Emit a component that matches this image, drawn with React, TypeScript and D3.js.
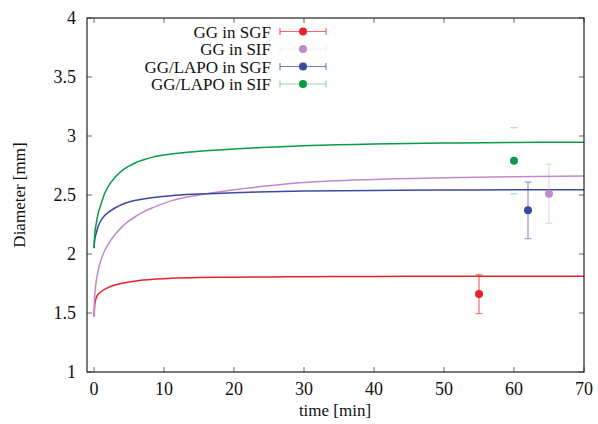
import React from "react";
import * as d3 from "d3";

// Fitted swelling curves, sampled in time (min)
const fitTimes = [0, 0.1, 0.3, 0.6, 1, 1.5, 2, 3, 4, 5, 6, 7, 8.5, 11, 15, 20, 25, 30, 40, 50, 60, 70];
const ggSgfFit = [1.47, 1.565, 1.625, 1.66, 1.68, 1.7, 1.715, 1.737, 1.752, 1.763, 1.772, 1.779, 1.787, 1.794, 1.8, 1.803, 1.806, 1.808, 1.81, 1.811, 1.812, 1.812];
const ggSifFit = [1.47, 1.65, 1.76, 1.86, 1.95, 2.025, 2.08, 2.165, 2.23, 2.28, 2.32, 2.355, 2.395, 2.45, 2.5, 2.545, 2.578, 2.605, 2.632, 2.647, 2.655, 2.66];
const lapoSgfFit = [2.05, 2.12, 2.17, 2.235, 2.285, 2.325, 2.35, 2.39, 2.42, 2.44, 2.455, 2.466, 2.478, 2.494, 2.508, 2.52, 2.527, 2.533, 2.539, 2.542, 2.544, 2.545];
const lapoSifFit = [2.05, 2.16, 2.25, 2.345, 2.42, 2.51, 2.57, 2.65, 2.707, 2.745, 2.775, 2.797, 2.823, 2.847, 2.87, 2.89, 2.905, 2.918, 2.932, 2.94, 2.945, 2.947];

// Measured diameters: time, mean, standard deviation
const seriesNames = ["GG in SGF", "GG in SIF", "GG/LAPO in SGF", "GG/LAPO in SIF"];
const measTimes = [55, 65, 62, 60];
const measMeans = [1.66, 2.51, 2.37, 2.79];
const measErrors = [0.165, 0.25, 0.24, 0.28];

const xTicks = [0, 10, 20, 30, 40, 50, 60, 70];
const yTicks = [1, 1.5, 2, 2.5, 3, 3.5, 4];

const colors = ["#e8222a", "#c089c9", "#3a4aa0", "#0a9a48"];
const barOpacity = [0.55, 0.35, 0.45, 0.35];
const barLineOpacity = [0.55, 0.3, 0.45, 0.0];
const legendBarOpacity = [0.7, 0.15, 0.7, 0.4];

const W = 598;
const H = 424;
const left = 87;
const right = 584;
const top = 18;
const bottom = 372;
const serif = "'Liberation Serif', 'Times New Roman', serif";

export default function App() {
  const x = d3.scaleLinear().domain([-1, 70]).range([left, right]);
  const y = d3.scaleLinear().domain([1, 4]).range([bottom, top]);
  const fits = [ggSgfFit, ggSifFit, lapoSgfFit, lapoSifFit];
  const line = d3
    .line<number>()
    .x((_, i) => x(fitTimes[i]))
    .y((v) => y(v))
    .curve(d3.curveMonotoneX);

  const tickLen = 5;
  const cap = 3.5;

  return (
    <svg
      width={W}
      height={H}
      style={{ position: "absolute", left: 0, top: 0, background: "#fff", fontFamily: serif }}
    >
      {/* ticks on all four sides, pointing inward */}
      {xTicks.map((t) => (
        <g key={"xt" + t} stroke="#666" strokeWidth={1}>
          <line x1={x(t)} x2={x(t)} y1={bottom} y2={bottom - tickLen} />
          <line x1={x(t)} x2={x(t)} y1={top} y2={top + tickLen} />
        </g>
      ))}
      {yTicks.map((t) => (
        <g key={"yt" + t} stroke="#666" strokeWidth={1}>
          <line x1={left} x2={left + tickLen} y1={y(t)} y2={y(t)} />
          <line x1={right} x2={right - tickLen} y1={y(t)} y2={y(t)} />
        </g>
      ))}

      {/* fitted curves */}
      {fits.map((f, i) => (
        <path key={"fit" + i} d={line(f) ?? ""} fill="none" stroke={colors[i]} strokeWidth={1.5} />
      ))}

      {/* measured points with error bars */}
      {measTimes.map((t, i) => {
        const cx = x(t);
        const y0 = y(measMeans[i] - measErrors[i]);
        const y1 = y(measMeans[i] + measErrors[i]);
        return (
          <g key={"pt" + i}>
            <line x1={cx} x2={cx} y1={y0} y2={y1} stroke={colors[i]} strokeOpacity={barLineOpacity[i]} strokeWidth={1.5} />
            <line x1={cx - cap} x2={cx + cap} y1={y0} y2={y0} stroke={colors[i]} strokeOpacity={barOpacity[i]} strokeWidth={1.3} />
            <line x1={cx - cap} x2={cx + cap} y1={y1} y2={y1} stroke={colors[i]} strokeOpacity={barOpacity[i]} strokeWidth={1.3} />
            <circle cx={cx} cy={y(measMeans[i])} r={4} fill={colors[i]} />
          </g>
        );
      })}

      {/* frame */}
      <rect x={left} y={top} width={right - left} height={bottom - top} fill="none" stroke="#222" strokeWidth={1.2} />

      {/* tick labels */}
      {xTicks.map((t) => (
        <text key={"xl" + t} x={x(t)} y={bottom + 23} textAnchor="middle" fontSize={18} fill="#111">
          {t}
        </text>
      ))}
      {yTicks.map((t) => (
        <text key={"yl" + t} x={left - 11} y={y(t) + 6} textAnchor="end" fontSize={18} fill="#111">
          {t}
        </text>
      ))}

      {/* axis titles */}
      <text x={335} y={416} textAnchor="middle" fontSize={17} fill="#111">
        time [min]
      </text>
      <text transform="translate(25,195) rotate(-90)" textAnchor="middle" fontSize={17} fill="#111">
        Diameter [mm]
      </text>

      {/* legend */}
      {seriesNames.map((name, i) => {
        const ly = 31.5 + i * 17.5;
        const lx0 = 280;
        const lx1 = 326;
        return (
          <g key={"lg" + i}>
            <text x={271} y={ly + 6} textAnchor="end" fontSize={17} fill="#111">
              {name}
            </text>
            <g stroke={colors[i]} strokeOpacity={legendBarOpacity[i]} strokeWidth={1.2}>
              <line x1={lx0} x2={lx1} y1={ly} y2={ly} />
              <line x1={lx0} x2={lx0} y1={ly - cap} y2={ly + cap} />
              <line x1={lx1} x2={lx1} y1={ly - cap} y2={ly + cap} />
            </g>
            <circle cx={(lx0 + lx1) / 2} cy={ly} r={4} fill={colors[i]} />
          </g>
        );
      })}
    </svg>
  );
}
